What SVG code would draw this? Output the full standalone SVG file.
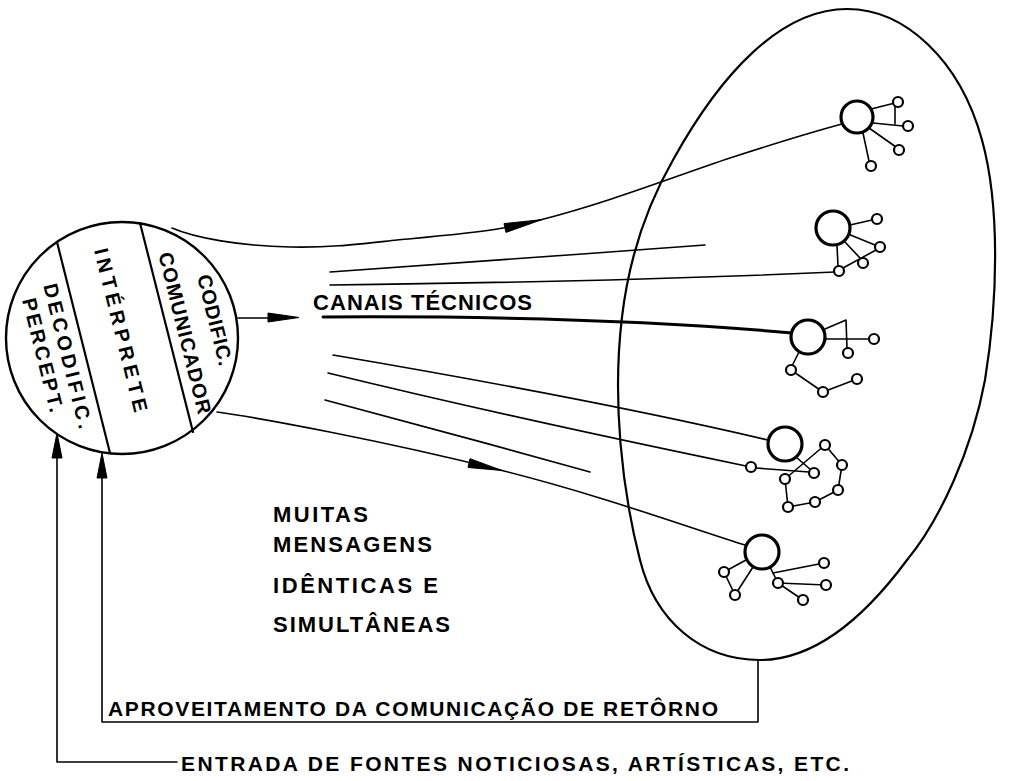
<svg xmlns="http://www.w3.org/2000/svg" width="1011" height="781" viewBox="0 0 1011 781">
  <style>
    .ln { fill: none; stroke: #000; stroke-width: 1.6; stroke-linecap: round; stroke-linejoin: round; }
    .thick { fill: none; stroke: #000; stroke-width: 3; stroke-linecap: round; }
    .edge { fill: none; stroke: #000; stroke-width: 2.2; stroke-linecap: round; }
    .big { fill: #fff; stroke: #000; stroke-width: 3.2; }
    .sm { fill: #fff; stroke: #000; stroke-width: 2.2; }
    .head { fill: #000; stroke: #000; stroke-width: 1; stroke-linejoin: round; }
    .lbl { font-family: "Liberation Sans", Arial, sans-serif; font-weight: bold; fill: #000; }
  </style>

  <rect width="1011" height="781" fill="#fff"/>

  <!-- audience boundary -->
  <g id="audience">
    <path class="edge" d="M847,9 C905,9 960,60 982,140 C1000,205 998,300 985,380 C972,450 940,520 907,560 C870,610 820,660 760,660 C700,660 655,620 640,560 C622,490 612,400 622,317 C630,250 650,200 673,160 C720,75 780,9 847,9 Z"/>
  </g>

  <!-- connectors -->
  <g id="connectors">
    <!-- upper broadcast curve -->
    <path class="ln" d="M172,228 C195,238 240,246 290,247 C330,248 360,244 397,240 C440,236 475,233 503,228 C515,226 528,223 540,220 C610,202 670,178 730,158 C770,145 805,134 842,124"/>
    <polygon class="head" points="542,219.6 506,232.4 504,223.6"/>
    <!-- short output arrow -->
    <line class="ln" x1="238" y1="318" x2="275" y2="318"/>
    <polygon class="head" points="299,317.5 268,313 268,322"/>
    <!-- technical channels -->
    <path class="ln" d="M330,272 C450,264 580,254 705,245"/>
    <path class="ln" d="M330,285 C500,283 680,279 835,272"/>
    <path class="thick" d="M323,317 C480,316 650,320 792,333"/>
    <path class="ln" d="M333,355 C480,380 640,410 768,440"/>
    <path class="ln" d="M328,373 C480,410 620,440 746,466"/>
    <path class="ln" d="M325,400 C420,425 500,447 590,472"/>
    <!-- lower broadcast curve -->
    <path class="ln" d="M217,412 C260,418 380,440 500,470 C600,495 690,528 745,545"/>
    <polygon class="head" points="502,470.5 468,467.5 470,458.7"/>
    <!-- feedback loop -->
    <polyline class="ln" points="758,660 758,722 102,722 102,470"/>
    <polygon class="head" points="102,453 97,478 107,478"/>
    <!-- input of sources -->
    <polyline class="ln" points="177,762 57,762 57,450"/>
    <polygon class="head" points="57,433 52,458 62,458"/>
  </g>

  <!-- communicator -->
  <g id="communicator">
    <circle cx="122" cy="338" r="116" fill="#fff" stroke="#000" stroke-width="2.4"/>
    <line class="edge" x1="57" y1="242" x2="110" y2="453"/>
    <line class="edge" x1="140" y1="223" x2="193" y2="432"/>
    <text class="lbl" font-size="20" transform="rotate(76 215 320)" x="215" y="327" text-anchor="middle" textLength="93" lengthAdjust="spacing">CODIFIC.</text>
    <text class="lbl" font-size="20" transform="rotate(76 185 333)" x="185" y="340" text-anchor="middle" textLength="166" lengthAdjust="spacing">COMUNICADOR</text>
    <text class="lbl" font-size="20" transform="rotate(76 121 330)" x="121" y="337" text-anchor="middle" textLength="168" lengthAdjust="spacing">INTÉRPRETE</text>
    <text class="lbl" font-size="20" transform="rotate(76 68 356)" x="68" y="363" text-anchor="middle" textLength="149" lengthAdjust="spacing">DECODIFIC.</text>
    <text class="lbl" font-size="20" transform="rotate(76 43 355)" x="43" y="362" text-anchor="middle" textLength="117" lengthAdjust="spacing">PERCEPT.</text>
  </g>

  <!-- receivers -->
  <g id="receiver-1">
    <line class="ln" x1="871" y1="109" x2="895" y2="103"/>
    <line class="ln" x1="873" y1="123" x2="903" y2="126"/>
    <line class="ln" x1="895" y1="103" x2="895" y2="124"/>
    <line class="ln" x1="869" y1="128" x2="896" y2="147"/>
    <line class="ln" x1="863" y1="133" x2="869" y2="161"/>
    <circle class="big" cx="857" cy="117" r="16"/>
    <circle class="sm" cx="898" cy="102" r="5"/>
    <circle class="sm" cx="908" cy="126" r="5"/>
    <circle class="sm" cx="899" cy="150" r="5"/>
    <circle class="sm" cx="871" cy="166" r="5"/>
  </g>
  <g id="receiver-2">
    <line class="ln" x1="850" y1="225" x2="872" y2="220"/>
    <line class="ln" x1="848" y1="234" x2="875" y2="245"/>
    <line class="ln" x1="845" y1="242" x2="860" y2="258"/>
    <line class="ln" x1="837" y1="245" x2="838" y2="266"/>
    <line class="ln" x1="843" y1="268" x2="876" y2="250"/>
    <circle class="big" cx="833" cy="228" r="17"/>
    <circle class="sm" cx="877" cy="219" r="5"/>
    <circle class="sm" cx="880" cy="247" r="5"/>
    <circle class="sm" cx="863" cy="263" r="5"/>
    <circle class="sm" cx="839" cy="271" r="5"/>
  </g>
  <g id="receiver-3">
    <polyline class="ln" points="825,329 846,320 847,348"/>
    <line class="ln" x1="824" y1="339" x2="869" y2="339"/>
    <line class="ln" x1="799" y1="352" x2="792" y2="366"/>
    <line class="ln" x1="791" y1="370" x2="823" y2="392"/>
    <line class="ln" x1="823" y1="392" x2="857" y2="379"/>
    <circle class="big" cx="808" cy="337" r="17"/>
    <circle class="sm" cx="874" cy="339" r="5"/>
    <circle class="sm" cx="848" cy="353" r="5"/>
    <circle class="sm" cx="791" cy="370" r="5"/>
    <circle class="sm" cx="823" cy="392" r="5"/>
    <circle class="sm" cx="857" cy="379" r="5"/>
  </g>
  <g id="receiver-4">
    <line class="ln" x1="796" y1="457" x2="811" y2="470"/>
    <line class="ln" x1="756" y1="468" x2="809" y2="472"/>
    <polyline class="ln" points="785,479 825,445 842,465 838,490 815,502 788,507 785,479"/>
    <circle class="big" cx="785" cy="444" r="17"/>
    <circle class="sm" cx="751" cy="467" r="5"/>
    <circle class="sm" cx="785" cy="479" r="5"/>
    <circle class="sm" cx="814" cy="473" r="5"/>
    <circle class="sm" cx="825" cy="445" r="5"/>
    <circle class="sm" cx="842" cy="465" r="5"/>
    <circle class="sm" cx="838" cy="490" r="5"/>
    <circle class="sm" cx="815" cy="502" r="5"/>
    <circle class="sm" cx="788" cy="507" r="5"/>
  </g>
  <g id="receiver-5">
    <line class="ln" x1="746" y1="560" x2="724" y2="572"/>
    <line class="ln" x1="724" y1="572" x2="735" y2="595"/>
    <line class="ln" x1="753" y1="567" x2="735" y2="595"/>
    <line class="ln" x1="770" y1="567" x2="778" y2="583"/>
    <line class="ln" x1="773" y1="573" x2="824" y2="563"/>
    <line class="ln" x1="778" y1="583" x2="826" y2="585"/>
    <line class="ln" x1="778" y1="583" x2="803" y2="600"/>
    <circle class="big" cx="762" cy="552" r="17"/>
    <circle class="sm" cx="724" cy="572" r="5"/>
    <circle class="sm" cx="735" cy="595" r="5"/>
    <circle class="sm" cx="778" cy="583" r="5"/>
    <circle class="sm" cx="824" cy="563" r="5"/>
    <circle class="sm" cx="826" cy="585" r="5"/>
    <circle class="sm" cx="803" cy="600" r="5"/>
  </g>

  <!-- labels -->
  <g id="labels">
    <text class="lbl" font-size="22" x="313" y="310" textLength="219" lengthAdjust="spacing">CANAIS TÉCNICOS</text>
    <text class="lbl" font-size="22" x="273" y="522" textLength="95" lengthAdjust="spacing">MUITAS</text>
    <text class="lbl" font-size="22" x="273" y="552" textLength="159" lengthAdjust="spacing">MENSAGENS</text>
    <text class="lbl" font-size="22" x="273" y="593" textLength="165" lengthAdjust="spacing">IDÊNTICAS E</text>
    <text class="lbl" font-size="22" x="273" y="632" textLength="177" lengthAdjust="spacing">SIMULTÂNEAS</text>
    <text class="lbl" font-size="21" x="108" y="716" textLength="610" lengthAdjust="spacing">APROVEITAMENTO DA COMUNICAÇÃO DE RETÔRNO</text>
    <text class="lbl" font-size="21" x="181" y="771" textLength="668" lengthAdjust="spacing">ENTRADA DE FONTES NOTICIOSAS, ARTÍSTICAS, ETC.</text>
  </g>
</svg>
